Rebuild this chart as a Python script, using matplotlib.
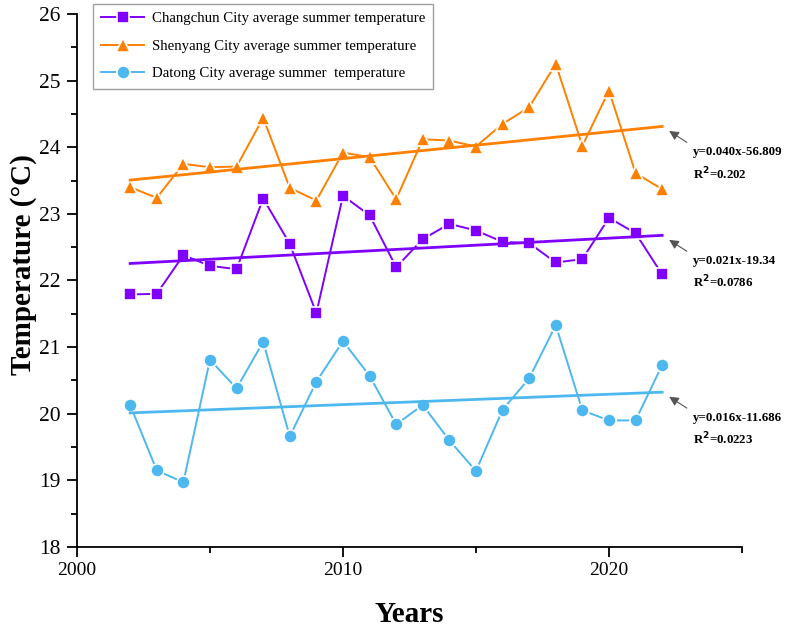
import numpy as np
import matplotlib
matplotlib.use("Agg")
import matplotlib.pyplot as plt
from matplotlib.ticker import MultipleLocator

plt.rcParams['font.family'] = ['Liberation Serif', 'DejaVu Serif']

years = list(range(2002, 2023))
changchun = [21.79, 21.80, 22.38, 22.22, 22.17, 23.23, 22.55, 21.51, 23.27, 22.98, 22.20,
             22.62, 22.85, 22.75, 22.58, 22.56, 22.27, 22.32, 22.94, 22.71, 22.09]
shenyang = [23.40, 23.24, 23.75, 23.70, 23.71, 24.44, 23.39, 23.20, 23.92, 23.85, 23.22,
            24.12, 24.10, 24.01, 24.35, 24.60, 25.25, 24.02, 24.85, 23.61, 23.37]
datong = [20.13, 19.15, 18.97, 20.81, 20.38, 21.08, 19.66, 20.48, 21.09, 20.57, 19.84,
          20.13, 19.60, 19.14, 20.06, 20.53, 21.33, 20.05, 19.90, 19.90, 20.73]

labels = ['Changchun City average summer temperature',
          'Shenyang City average summer temperature',
          'Datong City average summer  temperature']
fit_text = ['y=0.021x-19.34\nR$^\\mathbf{2}$=0.0786',
            'y=0.040x-56.809\nR$^\\mathbf{2}$=0.202',
            'y=0.016x-11.686\nR$^\\mathbf{2}$=0.0223']

colors = ['#7F00FF', '#FF8000', '#4DB8F0']
markers = ['s', '^', 'o']
msizes = [9, 10, 9.5]

fig = plt.figure(figsize=(7.91, 6.35), dpi=100)
ax = fig.add_axes([0.0973, 0.1386, 0.8407, 0.8394])

series = [changchun, shenyang, datong]
x = np.array(years)
for vals, c, m, ms, lab, txt in zip(series, colors, markers, msizes, labels, fit_text):
    ax.plot(x, vals, color=c, lw=1.4, marker=m, ms=ms, mfc=c, mec='white', mew=1.2, label=lab)
    k, b = np.polyfit(x, vals, 1)
    ax.plot(x, k * x + b, color=c, lw=2)
    yend = k * x[-1] + b
    ax.annotate(txt, xy=(x[-1], yend), xycoords='data',
                xytext=(31, -20), textcoords='offset pixels',
                fontsize=9.3, fontweight='bold', va='top', ha='left', linespacing=1.5,
                arrowprops=dict(arrowstyle='-|>', color='#555555', lw=0.8, relpos=(0, 1),
                                mutation_scale=14, shrinkA=3, shrinkB=6))

ax.set_xlim(2000, 2025)
ax.set_ylim(18, 26)
ax.xaxis.set_major_locator(MultipleLocator(10))
ax.xaxis.set_minor_locator(MultipleLocator(5))
ax.yaxis.set_major_locator(MultipleLocator(1))
ax.yaxis.set_minor_locator(MultipleLocator(0.5))
ax.tick_params(which='major', direction='out', length=7, width=1.3)
ax.tick_params(which='minor', direction='out', length=4, width=1.3)
ax.tick_params(axis='x', labelsize=14)
ax.tick_params(axis='y', labelsize=15.5, pad=5)
for s in ['top', 'right']:
    ax.spines[s].set_visible(False)
for s in ['left', 'bottom']:
    ax.spines[s].set_linewidth(1.3)

ax.set_xlabel('Years', fontsize=21, fontweight='bold', labelpad=16)
ax.set_ylabel('Temperature (°C)', fontsize=21, fontweight='bold')
ax.yaxis.label.set_va('center')
ax.yaxis.set_label_coords(-0.081, 0.53)

leg = ax.legend(loc='upper left', bbox_to_anchor=(0.024, 1.019), borderaxespad=0,
                fontsize=10.7, frameon=True, fancybox=False, edgecolor='#888888',
                handlelength=2.9, borderpad=0.55, labelspacing=0.95, handletextpad=0.5)
leg.get_frame().set_linewidth(1.0)

fig.savefig('out.png', dpi=100)
